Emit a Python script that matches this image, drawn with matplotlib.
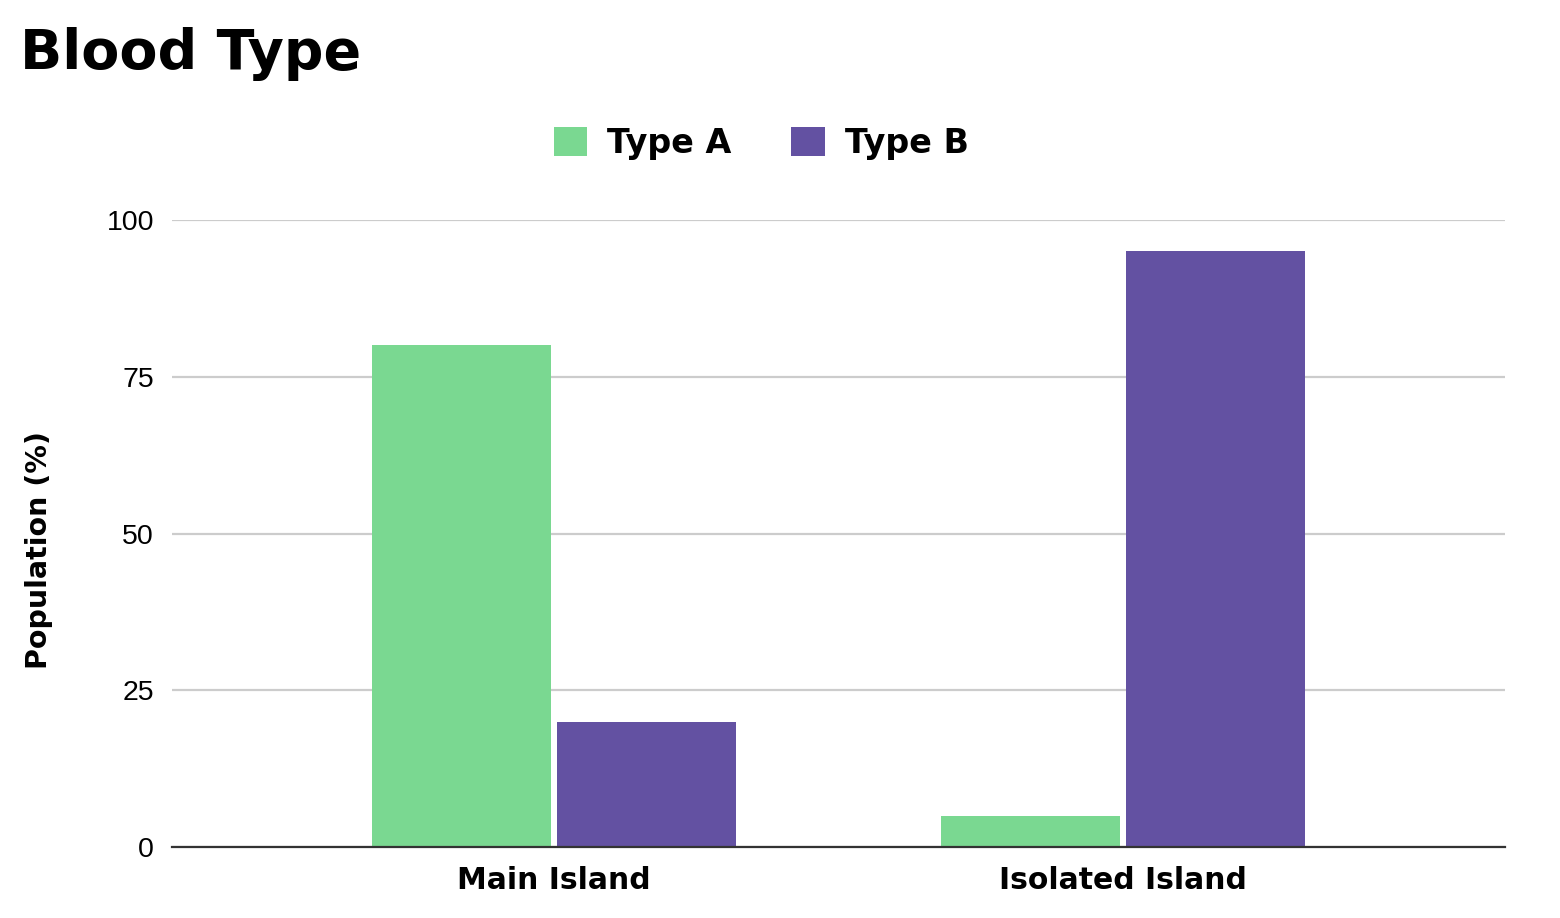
import numpy as np
import matplotlib.pyplot as plt

# Data
islands = ['Main Island', 'Isolated Island']
type_a = [80, 5]
type_b = [20, 95]
y_ticks = [0, 25, 50, 75, 100]

green = '#7ad891'
purple = '#6351a2'

fig = plt.figure(figsize=(15.6, 9.18), dpi=100)
ax = fig.add_axes([0.1103, 0.0773, 0.8544, 0.683])

x = np.arange(len(islands))
w = 0.315
gap = 0.005
ax.bar(x - w / 2 - gap, type_a, width=w, color=green, label='Type A', zorder=3)
ax.bar(x + w / 2 + gap, type_b, width=w, color=purple, label='Type B', zorder=3)

ax.set_xlim(-0.672, 1.672)
ax.set_ylim(0, 100)
ax.set_yticks(y_ticks)
ax.set_yticklabels([str(t) for t in y_ticks], fontsize=20.5, family='Liberation Sans')
ax.set_xticks(x)
ax.set_xticklabels(islands, fontsize=21.5, fontweight='bold', family='DejaVu Sans')
ax.tick_params(axis='both', length=0)
ax.tick_params(axis='y', pad=13)
ax.tick_params(axis='x', pad=14)

ax.grid(axis='y', color='#cccccc', linewidth=1.6, zorder=0)
for s in ['top', 'right', 'left']:
    ax.spines[s].set_visible(False)
ax.spines['bottom'].set_color('#333333')
ax.spines['bottom'].set_linewidth(1.6)
ax.spines['bottom'].set_zorder(4)

ax.set_ylabel('Population (%)', fontsize=20.5, fontweight='bold', family='DejaVu Sans')
ax.yaxis.set_label_coords(-0.0895, 0.474)

fig.text(0.013, 0.941, 'Blood Type', fontsize=40, fontweight='heavy',
         family='DejaVu Sans', va='center', ha='left')

leg = fig.legend(loc='center', bbox_to_anchor=(0.488, 0.844), ncol=2, frameon=False,
                 prop={'size': 24, 'weight': 'bold', 'family': 'DejaVu Sans'},
                 handlelength=1.0, handleheight=1.0, columnspacing=1.8, handletextpad=0.6)

fig.savefig('out.png', dpi=100)
